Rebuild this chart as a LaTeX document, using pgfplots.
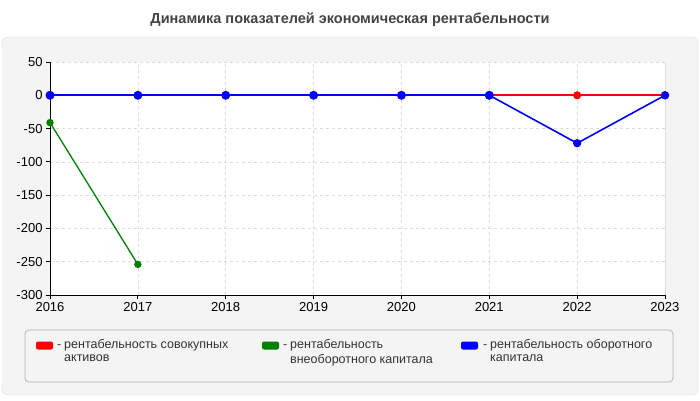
\documentclass[border=0pt]{standalone}
\usepackage{pgfplots}
\pgfplotsset{compat=1.18}
\usepackage{fontspec}
\setmainfont{Liberation Sans}
\definecolor{panel}{HTML}{F4F4F4}
\definecolor{titlegray}{HTML}{444444}
\definecolor{txt}{HTML}{333333}
\definecolor{gridc}{HTML}{DDDDDD}
\definecolor{sred}{HTML}{FF0000}
\definecolor{sgreen}{HTML}{008000}
\definecolor{sblue}{HTML}{0000FF}
\begin{document}
\begin{tikzpicture}[x=1pt,y=1pt]
\useasboundingbox (0,0) rectangle (700,400);
\fill[white] (0,0) rectangle (700,400);
\draw[rounded corners=6pt, draw=gray!25, fill=panel] (2,5) rectangle (698,363);
\node[font=\bfseries\fontsize{14.5}{16}\selectfont, text=titlegray] at (350,380) {Динамика показателей экономическая рентабельности};
\begin{axis}[at={(50pt,105pt)}, anchor=south west, scale only axis,
  width=615pt, height=233pt,
  xmin=2016, xmax=2023, ymin=-300, ymax=50,
  xtick={2016,...,2023}, ytick={-300,-250,...,50},
  x tick label style={/pgf/number format/1000 sep={}},
  /pgf/number format/assume math mode=true,
  tick label style={font=\fontsize{13}{15}\selectfont, text=black},
  axis x line*=bottom, axis y line*=left,
  axis line style={black, line width=0.8pt},
  tick align=outside, tick style={black, line width=0.8pt}, major tick length=4pt,
  grid=major, major grid style={gridc, dashed, line width=0.6pt},
  axis background/.style={fill=white},
  clip=false,
]
\draw[gridc, line width=0.8pt] (axis cs:2023,-300) -- (axis cs:2023,50);
\addplot[draw=sred, color=sred, line width=2pt, mark=*, mark size=3pt, mark options={fill=sred, draw=sred}] coordinates {(2016,0) (2017,0) (2018,0) (2019,0) (2020,0) (2021,0) (2022,0) (2023,0)};
\addplot[draw=sgreen, color=sgreen, line width=1.3pt, mark=*, mark size=3pt, mark options={fill=sgreen, draw=sgreen}] coordinates {(2016,-41) (2017,-254)};
\addplot[draw=sblue, color=sblue, line width=2.2pt, mark=*, mark size=3.3pt, mark options={fill=sblue, draw=sblue}] coordinates {(2016,0) (2017,0) (2018,0) (2019,0) (2020,0) (2021,0)};
\addplot[draw=sblue, color=sblue, line width=1.6pt, mark=*, mark size=3.3pt, mark options={fill=sblue, draw=sblue}] coordinates {(2021,0) (2022,-72) (2023,0)};
\end{axis}
\draw[rounded corners=4pt, draw=gray!60, fill=panel, line width=0.8pt] (25,18) rectangle (673,70);
\begin{scope}[font=\fontsize{12.5}{13}\selectfont, text=txt]
\fill[sred, rounded corners=2pt] (36,50.5) rectangle (53,58.5);
\node[anchor=north west, inner sep=0, align=left] at (64,61) {\llap{-\hspace{3pt}}рентабельность совокупных\\активов};
\fill[sgreen, rounded corners=2pt] (262,50.5) rectangle (279,58.5);
\node[anchor=north west, inner sep=0, align=left] at (290,61) {\llap{-\hspace{3pt}}рентабельность\\[2pt]внеоборотного капитала};
\fill[sblue, rounded corners=2pt] (461,50.5) rectangle (478,58.5);
\node[anchor=north west, inner sep=0, align=left] at (490,61) {\llap{-\hspace{3pt}}рентабельность оборотного\\капитала};
\end{scope}
\end{tikzpicture}
\end{document}
